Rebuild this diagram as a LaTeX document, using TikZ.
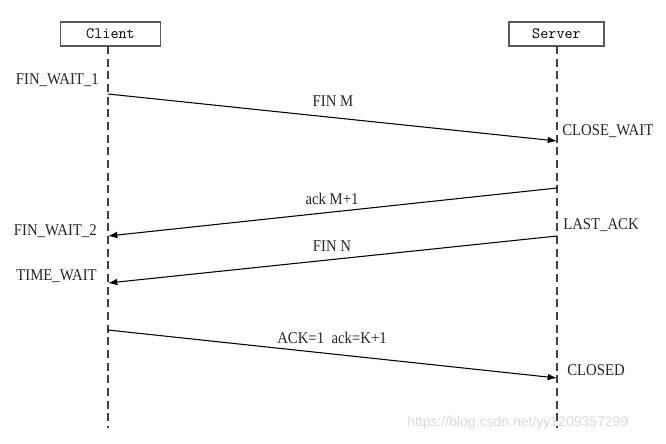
\documentclass[tikz,border=0pt]{standalone}
\usepackage{fontspec}
\setmainfont{Liberation Serif}
\newfontfamily\condserif[FakeStretch=0.9]{Liberation Serif}
\usetikzlibrary{arrows.meta}
\begin{document}
\begin{tikzpicture}[x=0.75pt,y=-0.75pt,
  lbl/.style={font=\condserif\fontsize{12.3}{14}\selectfont, text=black!85, inner sep=0pt},
  actor/.style={draw=black!65, line width=1.1pt, minimum height=18pt, inner sep=0pt, font=\ttfamily\fontsize{11.8}{13}\selectfont},
  life/.style={draw=black!75, line width=0.9pt, dash pattern=on 6pt off 3.5pt},
  msg/.style={draw=black, line width=0.8pt, -{Latex[length=7pt,width=5pt]}},
  wm/.style={font=\fontsize{10.5}{12}\fontspec{Liberation Sans}, text=black!15, inner sep=0pt}]
\useasboundingbox[fill=white] (0,0) rectangle (666,443);
% actors
\node[actor, minimum width=75pt] (client) at (110.5,34) {Client};
\node[actor, minimum width=71pt] (server) at (556.5,34) {Server};
% lifelines
\coordinate (cb) at (108,428);
\coordinate (sb) at (557,428);
\draw[life] (108,46) -- (cb);
\draw[life] (557,46) -- (sb);
% message end points
\coordinate (c1) at (108,94);   \coordinate (s1) at (557,141);
\coordinate (s2) at (557,188);  \coordinate (c2) at (108,236);
\coordinate (s3) at (557,236);  \coordinate (c3) at (108,283);
\coordinate (c4) at (108,330);  \coordinate (s4) at (557,378);
\draw[msg] (c1) -- (s1);
\draw[msg] (s2) -- (c2);
\draw[msg] (s3) -- (c3);
\draw[msg] (c4) -- (s4);
% message labels
\node[lbl] (m1) at (333,101) {FIN M};
\node[lbl] (m2) at (332,199) {ack M+1};
\node[lbl] (m3) at (332,246) {FIN N};
\node[lbl] (m4) at (332,338) {ACK=1\ \ ack=K+1};
% states
\node[lbl, anchor=east] (fw1) at (99,80) {FIN\_WAIT\_1};
\node[lbl, anchor=west] (cw) at (562,131) {CLOSE\_WAIT};
\node[lbl, anchor=east] (fw2) at (97,231) {FIN\_WAIT\_2};
\node[lbl, anchor=west] (la) at (563,225) {LAST\_ACK};
\node[lbl, anchor=east] (tw) at (97,276) {TIME\_WAIT};
\node[lbl, anchor=west] (cl) at (567,370) {CLOSED};
% watermark
\node[wm, anchor=west] (wmk) at (407,423) {https://blog.csdn.net/yy1209357299};
\end{tikzpicture}
\end{document}
